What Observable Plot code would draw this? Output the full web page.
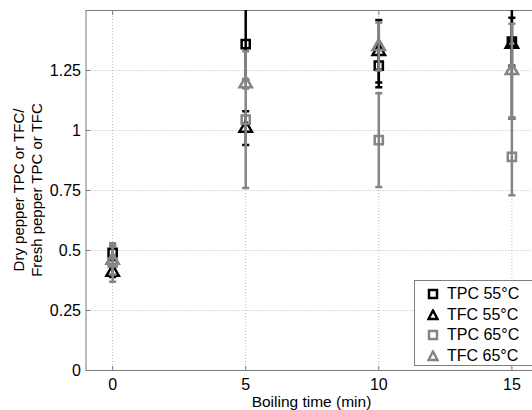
<!DOCTYPE html>
<html><head><meta charset="utf-8">
<script src="https://cdn.jsdelivr.net/npm/d3@7"></script>
<script src="https://cdn.jsdelivr.net/npm/@observablehq/plot@0.6"></script>
<style>
body{margin:0;background:#fff;overflow:hidden;}
#wrap{position:relative;width:532px;height:410px;overflow:hidden;font-family:"Liberation Sans",Arial,sans-serif;}
#legend{position:absolute;left:414px;top:280px;width:140px;height:86px;border:1px solid #808080;background:#fff;box-sizing:border-box;}
#legend .row{position:absolute;left:0;height:20px;display:flex;align-items:center;font-size:16px;color:#000;}
#legend svg{margin-left:12px;margin-right:8px;}
</style></head><body><div id="wrap"></div>
<script>
const times = [0, 5, 10, 15];
const seriesNames = ["TPC 55°C", "TFC 55°C", "TPC 65°C", "TFC 65°C"];
const tpc55 = [0.49, 1.36, 1.27, 1.37];
const tpc55Err = [0.03, 0.15, 0.09, 0.10];
const tfc55 = [0.41, 1.01, 1.33, 1.36];
const tfc55Err = [0.02, 0.07, 0.13, 0.31];
const tpc65 = [0.45, 1.045, 0.96, 0.89];
const tpc65Err = [0.08, 0.285, 0.195, 0.16];
const tfc65 = [0.46, 1.195, 1.35, 1.25];
const tfc65Err = [0.06, 0.02, 0.10, 0.195];
const xTicks = [0, 5, 10, 15];
const yTicks = [0, 0.25, 0.5, 0.75, 1, 1.25];

const series = [
  {name: seriesNames[0], v: tpc55, e: tpc55Err, color: "#000000", symbol: "square"},
  {name: seriesNames[1], v: tfc55, e: tfc55Err, color: "#000000", symbol: "triangle"},
  {name: seriesNames[2], v: tpc65, e: tpc65Err, color: "#858585", symbol: "square"},
  {name: seriesNames[3], v: tfc65, e: tfc65Err, color: "#858585", symbol: "triangle"}
];

const capSym = {draw(ctx, size) { const r = Math.sqrt(size) / 2; ctx.moveTo(-r, 0); ctx.lineTo(r, 0); }};
const hTick = {draw(ctx, size) { const r = Math.sqrt(size); ctx.moveTo(0, 0); ctx.lineTo(r, 0); }};
const vTick = {draw(ctx, size) { const r = Math.sqrt(size); ctx.moveTo(0, 0); ctx.lineTo(0, -r); }};
const vTickDown = {draw(ctx, size) { const r = Math.sqrt(size); ctx.moveTo(0, 0); ctx.lineTo(0, r); }};

const marks = [
  Plot.gridX(xTicks, {stroke: "#b8b8b8", strokeOpacity: 1, strokeDasharray: "1,2"}),
  Plot.gridY(yTicks.filter(d => d > 0), {stroke: "#b8b8b8", strokeOpacity: 1, strokeDasharray: "1,2"}),
  Plot.frame({stroke: "#7a7a7a"}),
  Plot.dot(yTicks, {y: d => d, frameAnchor: "left", symbol: hTick, r: 2.5, stroke: "#7a7a7a", strokeWidth: 1}),
  Plot.dot(xTicks, {x: d => d, frameAnchor: "bottom", symbol: vTick, r: 2.5, stroke: "#7a7a7a", strokeWidth: 1}),
  Plot.dot(xTicks, {x: d => d, frameAnchor: "top", symbol: vTickDown, r: 2.5, stroke: "#7a7a7a", strokeWidth: 1}),
  Plot.axisX(xTicks, {tickSize: 0, tickPadding: 8, label: null}),
  Plot.axisY(yTicks, {tickSize: 0, tickPadding: 5, label: null, tickFormat: d => String(d)})
];
for (const s of series) {
  const rows = times.map((t, i) => ({t, y: s.v[i], lo: s.v[i] - s.e[i], hi: s.v[i] + s.e[i]}));
  marks.push(Plot.ruleX(rows, {x: "t", y1: "lo", y2: "hi", stroke: s.color, strokeWidth: 2.5, clip: true}));
  const caps = rows.flatMap(r => [{t: r.t, y: r.lo}, {t: r.t, y: r.hi}]);
  marks.push(Plot.dot(caps, {x: "t", y: "y", symbol: capSym, r: 4, stroke: s.color, strokeWidth: 2.5, clip: true}));
  marks.push(Plot.dot(rows, {x: "t", y: "y", symbol: s.symbol, r: 4.6, stroke: s.color, fill: "none", strokeWidth: 2.5, clip: true}));
}

const chart = Plot.plot({
  width: 532, height: 410,
  marginLeft: 85.5, marginRight: -6, marginTop: 10, marginBottom: 40,
  x: {domain: [-1, 16]},
  y: {domain: [0, 1.5]},
  style: {fontFamily: "'Liberation Sans', Arial, sans-serif", fontSize: "16px", color: "#000", background: "#fff"},
  marks
});
const svg = d3.select(chart);
svg.append("text").attr("x", 311.5).attr("y", 407).attr("text-anchor", "middle")
  .attr("font-size", 15.5).attr("fill", "#000").text("Boiling time (min)");
svg.append("text").attr("transform", "translate(24,190) rotate(-90)").attr("text-anchor", "middle")
  .attr("font-size", 15).attr("fill", "#000").text("Dry pepper TPC or TFC/");
svg.append("text").attr("transform", "translate(42,190) rotate(-90)").attr("text-anchor", "middle")
  .attr("font-size", 15).attr("fill", "#000").text("Fresh pepper TPC or TFC");
const wrap = document.getElementById("wrap");
wrap.appendChild(chart);

const leg = document.createElement("div");
leg.id = "legend";
series.forEach((s, i) => {
  const row = document.createElement("div");
  row.className = "row";
  row.style.top = (3 + i * 20.5) + "px";
  const shape = s.symbol === "square"
    ? `<rect x="2" y="2" width="8" height="8" fill="none" stroke="${s.color}" stroke-width="2.5"/>`
    : `<path d="M6,1.5 L10.5,10 L1.5,10 Z" fill="none" stroke="${s.color}" stroke-width="2.5" stroke-linejoin="miter"/>`;
  row.innerHTML = `<svg width="12" height="12">${shape}</svg><span>${s.name}</span>`;
  leg.appendChild(row);
});
wrap.appendChild(leg);
</script>
</body></html>
